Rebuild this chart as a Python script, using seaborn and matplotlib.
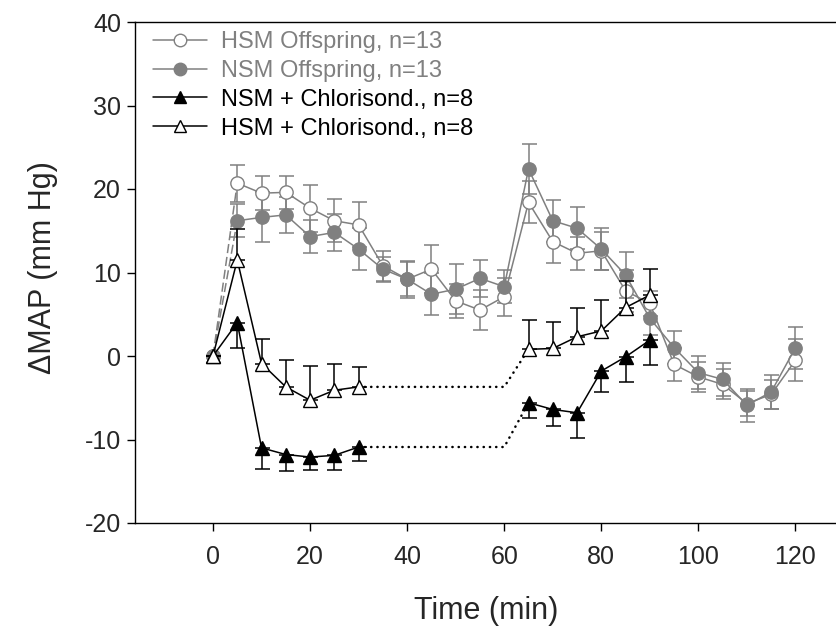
import numpy as np
import pandas as pd
import matplotlib
matplotlib.use("Agg")
import matplotlib.pyplot as plt
import seaborn as sns
from matplotlib.lines import Line2D

# ---- data ----
t_full = [0, 5, 10, 15, 20, 25, 30, 35, 40, 45, 50, 55, 60, 65, 70, 75, 80, 85, 90,
          95, 100, 105, 110, 115, 120]
hsm_off = [0, 20.7, 19.5, 19.6, 17.7, 16.2, 15.7, 10.8, 9.2, 10.4, 6.6, 5.5, 7.1,
           18.4, 13.7, 12.3, 12.6, 7.8, 6.3, -1.0, -2.5, -3.4, -5.7, -4.6, -0.5]
hsm_off_err = [0, 2.2, 2.0, 2.0, 2.8, 2.6, 2.7, 1.8, 2.0, 2.9, 2.0, 2.4, 2.3,
               2.5, 2.6, 2.0, 2.3, 2.5, 1.5, 2.0, 1.8, 1.8, 1.5, 1.7, 2.5]
nsm_off = [0, 16.2, 16.6, 16.9, 14.3, 14.8, 12.8, 10.4, 9.2, 7.4, 8.0, 9.3, 8.3,
           22.4, 16.2, 15.3, 12.8, 9.7, 4.5, 1.0, -2.0, -2.8, -5.9, -4.3, 1.0]
nsm_off_err = [0, 2.0, 3.0, 2.2, 2.0, 2.2, 2.5, 1.5, 2.2, 2.5, 3.0, 2.2, 2.0,
               3.0, 2.5, 2.5, 2.5, 2.7, 2.0, 2.0, 2.0, 2.0, 2.0, 2.0, 2.5]

t_chl = [0, 5, 10, 15, 20, 25, 30, 65, 70, 75, 80, 85, 90]
nsm_chl = [0, 4.0, -11.0, -11.8, -12.1, -11.9, -10.9, -5.6, -6.4, -6.8, -1.8, -0.1, 1.9]
nsm_chl_err = [0, 3.0, 2.5, 2.0, 1.5, 1.7, 1.7, 1.8, 2.0, 3.0, 2.5, 3.0, 3.0]
hsm_chl = [0, 11.5, -0.9, -3.7, -5.3, -4.1, -3.7, 0.8, 0.9, 2.3, 3.0, 5.8, 7.3]
hsm_chl_err = [0, 3.7, 2.9, 3.2, 4.1, 3.1, 2.4, 3.5, 3.2, 3.4, 3.7, 3.2, 3.1]

gap_t = [30, 60, 65]

labels = ["HSM Offspring, n=13", "NSM Offspring, n=13",
          "NSM + Chlorisond., n=8", "HSM + Chlorisond., n=8"]
xticks = [0, 20, 40, 60, 80, 100, 120]
yticks = [-20, -10, 0, 10, 20, 30, 40]

GRAY = "#808080"
BLACK = "#000000"

sns.set_theme(style="white")
plt.rcParams["font.family"] = ["Liberation Sans", "DejaVu Sans"]
plt.rcParams["axes.unicode_minus"] = False

W, H = 837, 635
fig = plt.figure(figsize=(W / 100, H / 100), dpi=100)
ax = fig.add_axes([135 / W, 1 - 523 / H, 1 - 135 / W, (523 - 22) / H])

df_off = pd.DataFrame({"t": t_full, "hsm": hsm_off, "nsm": nsm_off})
df_chl = pd.DataFrame({"t": t_chl, "nsm": nsm_chl, "hsm": hsm_chl})

MS = 9.6
# ---- gray offspring series ----
for col, err, fc in [("hsm", hsm_off_err, "white"), ("nsm", nsm_off_err, GRAY)]:
    vals = df_off[col].values
    e = np.array(err)
    ax.errorbar(df_off["t"], vals, yerr=e, fmt="none", ecolor=GRAY, elinewidth=1.1,
                capsize=5.4, capthick=1.1, zorder=2)
    ax.plot(df_off["t"][:2], vals[:2], color=GRAY, lw=1.1, ls=(0, (6, 2.5)), zorder=2)
    sub = df_off.iloc[1:]
    sns.lineplot(data=sub, x="t", y=col, ax=ax, color=GRAY, lw=1.1, marker="o",
                 markersize=MS, markerfacecolor=fc, markeredgecolor=GRAY,
                 markeredgewidth=1.0, zorder=3, legend=False)
    ax.plot(df_off["t"][:1], vals[:1], "o", ms=MS, mfc=fc, mec=GRAY, mew=1.0, zorder=3)

# ---- black chlorisondamine series ----
n1 = 7
for col, err, fc, direction in [("nsm", nsm_chl_err, BLACK, "down"),
                                ("hsm", hsm_chl_err, "white", "up")]:
    vals = df_chl[col].values
    e = np.array(err)
    z = np.zeros_like(e)
    yerr = [e, z] if direction == "down" else [z, e]
    ax.errorbar(df_chl["t"], vals, yerr=yerr, fmt="none", ecolor=BLACK, elinewidth=1.1,
                capsize=5.4, capthick=1.1, zorder=4)
    for seg in (df_chl.iloc[:n1], df_chl.iloc[n1:]):
        sns.lineplot(data=seg, x="t", y=col, ax=ax, color=BLACK, lw=1.1, marker="^",
                     markersize=10, markerfacecolor=fc, markeredgecolor=BLACK,
                     markeredgewidth=1.0, zorder=5, legend=False)
    gap_v = [vals[n1 - 1], vals[n1 - 1], vals[n1]]
    ax.plot(gap_t, gap_v, color=BLACK, lw=1.8, ls=(0, (0.1, 2.4)),
            dash_capstyle="round", zorder=4)

# ---- axes ----
px_per_unit = 4.854
ax.set_xlim((135 - 213) / px_per_unit, (837 - 213) / px_per_unit)
ax.set_ylim(-20, 40)
ax.set_xticks(xticks)
ax.set_yticks(yticks)
ax.set_xlabel("Time (min)", fontsize=22)
ax.set_ylabel("\u0394MAP (mm Hg)", fontsize=22)
ax.xaxis.set_label_coords(0.5, -0.145)
ax.yaxis.set_label_coords(-0.11, 0.51)
ax.tick_params(axis="both", labelsize=18, direction="out", length=6, width=1,
               color="black", bottom=True, left=True)
ax.tick_params(axis="x", pad=10)
ax.tick_params(axis="y", pad=4)
for s in ["left", "bottom", "top"]:
    ax.spines[s].set_color("black")
    ax.spines[s].set_linewidth(1.0)
ax.spines["right"].set_visible(False)
ax.grid(False)

handles = [
    Line2D([], [], color=GRAY, lw=1.1, marker="o", ms=9, mfc="white", mec=GRAY),
    Line2D([], [], color=GRAY, lw=1.1, marker="o", ms=9, mfc=GRAY, mec=GRAY),
    Line2D([], [], color=BLACK, lw=1.1, marker="^", ms=9, mfc=BLACK, mec=BLACK),
    Line2D([], [], color=BLACK, lw=1.1, marker="^", ms=9, mfc="white", mec=BLACK),
]
leg = fig.legend(handles, labels, loc="upper left",
                 bbox_to_anchor=(153 / W, 1 - 31 / H),
                 frameon=False, fontsize=17, handlelength=2.3, handletextpad=0.6,
                 labelspacing=0.29, borderaxespad=0, borderpad=0)
for txt, c in zip(leg.get_texts(), [GRAY, GRAY, BLACK, BLACK]):
    txt.set_color(c)

fig.savefig("out.png", dpi=100)
